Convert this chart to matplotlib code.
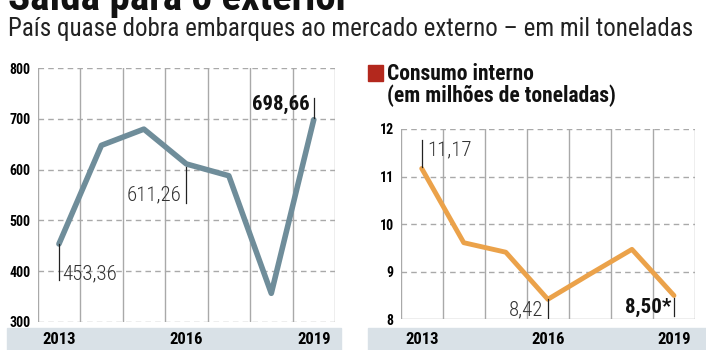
import matplotlib
matplotlib.use("Agg")
from matplotlib import pyplot as plt
from matplotlib.patches import Rectangle

plt.rcParams['font.family'] = ['Roboto Condensed', 'DejaVu Sans']

years = [2013, 2014, 2015, 2016, 2017, 2018, 2019]
exports = [453.36, 648, 680, 611.26, 588, 356, 698.66]
consumption = [11.17, 9.61, 9.41, 8.42, 8.95, 9.47, 8.50]
year_labels = ['2013', '2016', '2019']
left_yticks = [300, 400, 500, 600, 700, 800]
right_yticks = [8, 9, 10, 11, 12]

title = "Saída para o exterior"
subtitle = "País quase dobra embarques ao mercado externo – em mil toneladas"
right_head1 = "Consumo interno"
right_head2 = "(em milhões de toneladas)"

W, H = 706, 350
fig = plt.figure(figsize=(W / 100, H / 100), dpi=100)
grid_c = '#a9a9a9'
band_c = '#d9e1e7'


def fx(px):
    return px / W


def fy(py):
    return 1 - py / H


def setup(ax, yticks, solid_bottom):
    ax.set_xlim(years[0] - 0.5, years[-1] + 0.5)
    ax.set_ylim(yticks[0], yticks[-1])
    for s in ax.spines.values():
        s.set_visible(False)
    for k in range(len(years) + 1):
        ax.axvline(years[0] - 0.5 + k, color=grid_c, lw=1, zorder=1)
    for i, t in enumerate(yticks):
        if i == 0 and solid_bottom:
            ax.axhline(t, color=grid_c, lw=1, zorder=1)
        else:
            ax.axhline(t, color=grid_c, lw=1, ls=(0, (4, 3)), zorder=1)
    ax.set_xticks([])
    ax.set_yticks(yticks)
    ax.set_yticklabels([str(t) for t in yticks], fontweight='bold', fontsize=10)
    ax.tick_params(axis='y', length=0, pad=5)
    ax.patch.set_alpha(0)


# bottom bands with years
fig.patches.append(Rectangle((fx(7), 0), fx(341) - fx(7), fy(328), transform=fig.transFigure,
                             color=band_c, zorder=0))
fig.patches.append(Rectangle((fx(368), 0), 1 - fx(368), fy(328), transform=fig.transFigure,
                             color=band_c, zorder=0))

# left chart
ax1 = fig.add_axes([fx(37.7), fy(321.7), fx(335) - fx(37.7), fy(68.3) - fy(321.7)])
setup(ax1, left_yticks, False)
ax1.plot(years, exports, color='#6f8d9a', lw=4, solid_joinstyle='round',
         solid_capstyle='round', zorder=3)
ax1.plot([2013, 2013], [exports[0], 382], color='#222222', lw=0.9, zorder=4)
ax1.text(2013.07, 395, "453,36", fontsize=15, fontweight=300, color='#333333',
         va='center', ha='left')
ax1.plot([2016, 2016], [606, 534], color='#222222', lw=0.9, zorder=4)
ax1.text(2015.88, 550, "611,26", fontsize=15, fontweight=300, color='#333333',
         va='center', ha='right')
ax1.plot([2019, 2019], [742, 701], color='#222222', lw=0.9, zorder=4)
ax1.text(2018.9, 729, "698,66", fontsize=15, fontweight='bold', color='#111111',
         va='center', ha='right')
for lab in year_labels:
    x = ax1.transData.transform((int(lab), 0))[0]
    fig.text(x / W, fy(340), lab, ha='center', va='center', fontsize=12, fontweight='bold')

# right chart
ax2 = fig.add_axes([fx(400.7), fy(319.3), fx(695) - fx(400.7), fy(129) - fy(319.3)])
setup(ax2, right_yticks, True)
ax2.plot(years, consumption, color='#eba24a', lw=3.5, solid_joinstyle='round',
         solid_capstyle='round', zorder=3)
ax2.plot([2013, 2013], [11.77, 11.21], color='#222222', lw=0.9, zorder=4)
ax2.text(2013.13, 11.56, "11,17", fontsize=15, fontweight=300, color='#333333',
         va='center', ha='left')
ax2.plot([2016, 2016], [consumption[3], 8.0], color='#222222', lw=0.9, zorder=4)
ax2.text(2015.88, 8.2, "8,42", fontsize=15, fontweight=300, color='#333333',
         va='center', ha='right')
ax2.plot([2019, 2019], [8.44, 8.06], color='#222222', lw=0.9, zorder=4)
ax2.text(2018.93, 8.25, "8,50*", fontsize=15, fontweight='bold', color='#111111',
         va='center', ha='right')
for lab in year_labels:
    x = ax2.transData.transform((int(lab), 0))[0]
    fig.text(x / W, fy(340), lab, ha='center', va='center', fontsize=12, fontweight='bold')

# header texts (title is cut at the top edge, as in the source)
fig.text(fx(8), fy(10), title, fontsize=29.5, fontweight='bold', color='#111111',
         va='baseline', ha='left')
fig.text(fx(8), fy(36), subtitle, fontsize=18, color='#222222', va='baseline', ha='left')
fig.patches.append(Rectangle((fx(368), fy(81)), fx(383) - fx(368), fy(65) - fy(81),
                             transform=fig.transFigure, color='#b3281d'))
fig.text(fx(387), fy(80), right_head1, fontsize=15.5, fontweight='bold', color='#111111',
         va='baseline', ha='left')
fig.text(fx(387), fy(102), right_head2, fontsize=15.5, fontweight='bold', color='#111111',
         va='baseline', ha='left')

fig.savefig('out.png', dpi=100, facecolor='white')
